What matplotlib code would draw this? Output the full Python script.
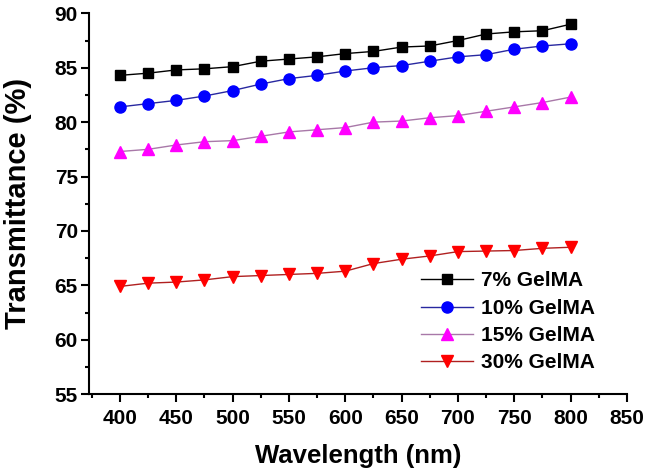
import matplotlib.pyplot as plt
from matplotlib.ticker import MultipleLocator

plt.rcParams['font.family'] = ['Liberation Sans', 'DejaVu Sans']
plt.rcParams['font.weight'] = 'bold'

wavelength = [400, 425, 450, 475, 500, 525, 550, 575, 600, 625, 650, 675, 700, 725, 750, 775, 800]
gel7 = [84.3, 84.5, 84.8, 84.9, 85.1, 85.6, 85.8, 86.0, 86.3, 86.5, 86.9, 87.0, 87.5, 88.1, 88.3, 88.4, 89.0]
gel10 = [81.4, 81.7, 82.0, 82.4, 82.9, 83.5, 84.0, 84.3, 84.7, 85.0, 85.2, 85.6, 86.0, 86.2, 86.7, 87.0, 87.2]
gel15 = [77.3, 77.5, 77.9, 78.2, 78.3, 78.7, 79.1, 79.3, 79.5, 80.0, 80.1, 80.4, 80.6, 81.0, 81.4, 81.8, 82.3]
gel30 = [64.9, 65.2, 65.3, 65.5, 65.8, 65.9, 66.0, 66.1, 66.3, 67.0, 67.4, 67.7, 68.1, 68.15, 68.2, 68.4, 68.5]
labels = ['7% GelMA', '10% GelMA', '15% GelMA', '30% GelMA']

fig = plt.figure(figsize=(6.45, 4.76), dpi=100)
ax = fig.add_axes([0.138, 0.172, 0.834, 0.8])

ax.plot(wavelength, gel7, color='black', lw=1, marker='s', ms=7.5, mfc='black', mec='black', label=labels[0])
ax.plot(wavelength, gel10, color='#2828a0', lw=1, marker='o', ms=8, mfc='blue', mec='blue', label=labels[1])
ax.plot(wavelength, gel15, color='#a878a8', lw=1, marker='^', ms=8.5, mfc='#ff00ff', mec='#ff00ff', label=labels[2])
ax.plot(wavelength, gel30, color='#b02020', lw=1, marker='v', ms=8.5, mfc='red', mec='red', label=labels[3])

ax.set_xlim(372.5, 850)
ax.set_ylim(55, 90)
ax.xaxis.set_major_locator(MultipleLocator(50))
ax.xaxis.set_minor_locator(MultipleLocator(25))
ax.yaxis.set_major_locator(MultipleLocator(5))
ax.yaxis.set_minor_locator(MultipleLocator(2.5))

ax.spines['top'].set_visible(False)
ax.spines['right'].set_visible(False)
ax.spines['left'].set_linewidth(1.5)
ax.spines['bottom'].set_linewidth(1.5)
ax.tick_params(which='major', direction='out', length=5.5, width=1.5, labelsize=15)
ax.tick_params(which='minor', direction='out', length=3, width=1.5)
ax.tick_params(axis='x', which='major', pad=5)
ax.tick_params(axis='y', which='major', pad=2.5)
for t in ax.get_xticklabels() + ax.get_yticklabels():
    t.set_fontweight('bold')

ax.set_xlabel('Wavelength (nm)', fontsize=18.5, fontweight='bold', labelpad=12)
ax.set_ylabel('Transmittance (%)', fontsize=21, fontweight='bold', labelpad=16)

ax.legend(loc='upper left', bbox_to_anchor=(0.602, 0.344), borderaxespad=0, frameon=False,
          handlelength=2.5, handletextpad=0.35, labelspacing=0.4,
          prop={'weight': 'bold', 'size': 15})

fig.savefig('out.png', dpi=100)
